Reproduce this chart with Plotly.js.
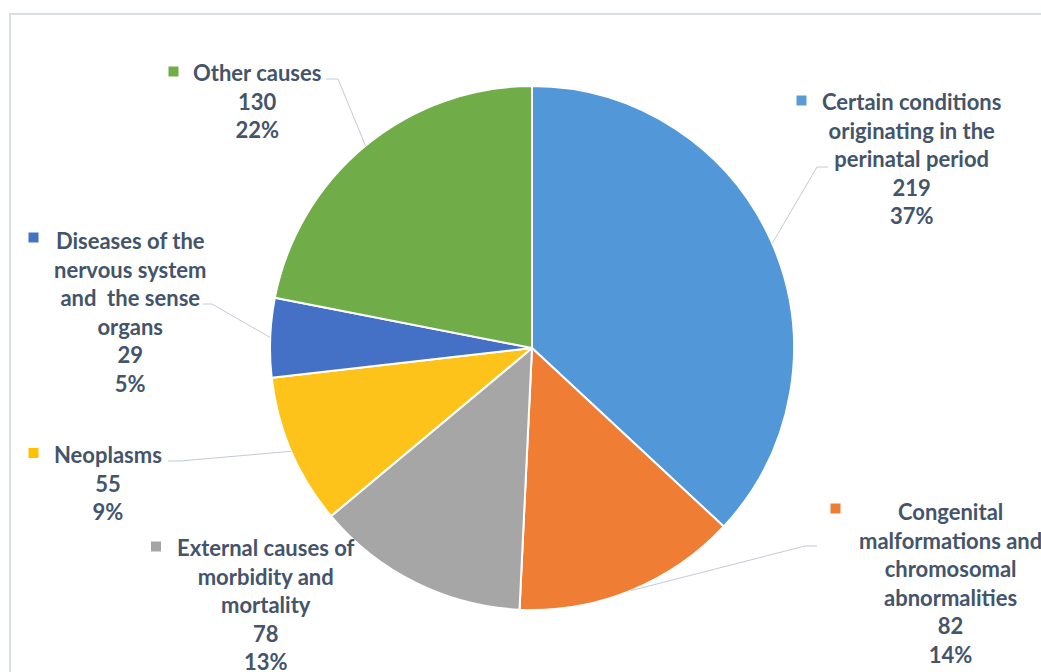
<!DOCTYPE html>
<html><head><meta charset="utf-8">
<script src="https://cdn.plot.ly/plotly-3.0.1.min.js"></script>
<style>html,body{margin:0;padding:0;background:#fff}#chart{width:1041px;height:672px}</style>
</head><body><div id="chart"></div>
<script>
// ---- data ----
const categories = [
  "Certain conditions originating in the perinatal period",
  "Congenital malformations and chromosomal abnormalities",
  "External causes of morbidity and mortality",
  "Neoplasms",
  "Diseases of the nervous system and the sense organs",
  "Other causes"
];
const labelText = [
  "Certain conditions<br>originating in the<br>perinatal period",
  "Congenital<br>malformations and<br>chromosomal<br>abnormalities",
  "External causes of<br>morbidity and<br>mortality",
  "Neoplasms",
  "Diseases of the<br>nervous system<br>and  the sense<br>organs",
  "Other causes"
];
const values = [219, 82, 78, 55, 29, 130];
const colors = ["#5297d8", "#ef7d33", "#a6a6a6", "#fec31a", "#4470c6", "#70ac47"];
const keyColors = ["#5b9bd5", "#ed7d31", "#a5a5a5", "#ffc000", "#4472c4", "#70ad47"];

// ---- layout constants (pixels) ----
const W = 1041, H = 672;
const cx = 532, cy = 348, R = 262;
const labelPos = [ // center x, center y of label block
  [911, 159], [950, 583], [266, 604], [108, 483], [130, 311.5], [257, 101]
];
const elbows = [ // leader line elbow + end, null = no leader
  [[817,167],[828,167]],
  [[805,546],[817,546]],
  null,
  [[180,461],[168,461]],
  [[212,304],[203,304]],
  [[338,79],[326,79]]
];
const keyPos = [[801.5,100.5],[835.5,508.5],[156,546.5],[33.5,453],[33.5,237.5],[173.5,71.5]];

const px = x => x / W;
const py = y => 1 - y / H;

const total = values.reduce((a, b) => a + b, 0);
const shapes = [];
const annotations = [];

// frame
shapes.push({type:'rect', xref:'paper', yref:'paper', x0:px(10), x1:px(1060), y0:py(700), y1:py(14),
  line:{color:'#dadee6', width:2}, fillcolor:'rgba(0,0,0,0)', layer:'below'});

let cum = 0;
values.forEach((v, i) => {
  const mid = (cum + v / 2) / total * 2 * Math.PI;
  cum += v;
  const ax = cx + R * Math.sin(mid), ay = cy - R * Math.cos(mid);
  if (elbows[i]) {
    const [e1, e2] = elbows[i];
    shapes.push({type:'path', xref:'paper', yref:'paper',
      path:`M ${px(ax)} ${py(ay)} L ${px(e1[0])} ${py(e1[1])} L ${px(e2[0])} ${py(e2[1])}`,
      line:{color:'#c3cad6', width:1}});
  }
  const pct = Math.round(v / total * 100);
  annotations.push({xref:'paper', yref:'paper', x:px(labelPos[i][0]), y:py(labelPos[i][1]),
    xanchor:'center', yanchor:'middle', align:'center', showarrow:false,
    text:`<b>${labelText[i]}<br>${v}<br>${pct}%</b>`,
    font:{family:'Lato, "Open Sans", sans-serif', size:22, color:'#44546a'}});
  const k = keyPos[i], s = 5;
  shapes.push({type:'rect', xref:'paper', yref:'paper',
    x0:px(k[0]-s), x1:px(k[0]+s), y0:py(k[1]+s), y1:py(k[1]-s),
    fillcolor:keyColors[i], line:{width:0}});
});

const trace = {
  type:'pie', labels:categories, values:values, sort:false, direction:'clockwise', rotation:0,
  marker:{colors:colors, line:{color:'#ffffff', width:2}},
  textinfo:'none', hoverinfo:'label+value+percent', showlegend:false,
  domain:{x:[px(cx-R), px(cx+R)], y:[py(cy+R), py(cy-R)]}
};

Plotly.newPlot('chart', [trace], {
  width:W, height:H, margin:{l:0,r:0,t:0,b:0},
  paper_bgcolor:'#ffffff', showlegend:false,
  shapes:shapes, annotations:annotations
}, {displayModeBar:false, staticPlot:true});
</script>
</body></html>
